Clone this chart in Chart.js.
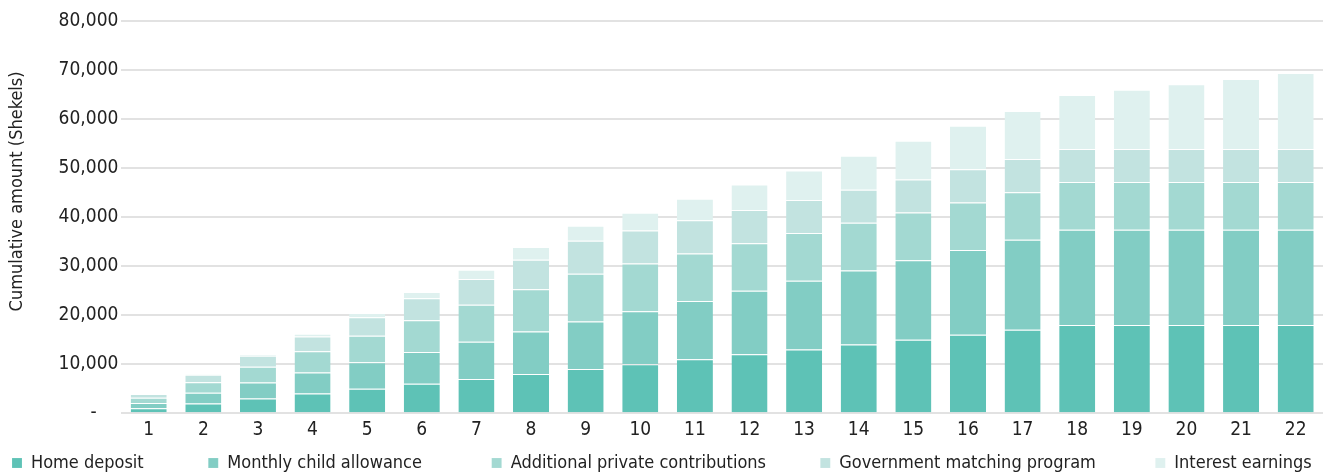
<!DOCTYPE html>
<html>
<head>
<meta charset="utf-8">
<script src="https://cdn.jsdelivr.net/npm/chart.js@4"></script>
<style>
  html, body { margin: 0; padding: 0; background: #fff; }
  #wrap { width: 1323px; height: 474px; }
</style>
</head>
<body>
<div id="wrap"><canvas id="chart"></canvas></div>
<script>
// years 1..22
const years = ["1","2","3","4","5","6","7","8","9","10","11","12","13","14","15","16","17","18","19","20","21","22"];

// values (shekels)
const homeDeposit = [1000,2000,3000,4000,5000,6000,7000,8000,9000,10000,11000,12000,13000,14000,15000,16000,17000,18000,18000,18000,18000,18000];
const childAllowance = [1080,2160,3240,4320,5400,6480,7560,8640,9720,10800,11880,12960,14040,15120,16200,17280,18360,19440,19440,19440,19440,19440];
const privateContrib = [1080,2160,3240,4320,5400,6480,7560,8640,9720,9720,9720,9720,9720,9720,9720,9720,9720,9720,9720,9720,9720,9720];
const govMatching = [750,1500,2250,3000,3750,4500,5250,6000,6750,6750,6750,6750,6750,6750,6750,6750,6750,6750,6750,6750,6750,6750];
const interest = [40,130,270,580,900,1280,1870,2600,3050,3630,4410,5200,5980,6900,7890,8880,9790,10990,12090,13170,14250,15480];

const yTicks = [0,10000,20000,30000,40000,50000,60000,70000,80000];

const FONT = "'DejaVu Sans Condensed', 'DejaVu Sans', sans-serif";

// extra spaces after each legend text so the items spread like the original
const legendGap = [11, 12, 9, 10, 0];

function ds(label, data, color) {
  return {
    label: label,
    data: data,
    backgroundColor: color,
    borderColor: "rgba(255,255,255,0.55)",
    borderWidth: { top: 1, left: 0, right: 0, bottom: 0 },
    borderSkipped: false,
    barPercentage: 0.66,
    categoryPercentage: 1
  };
}

new Chart(document.getElementById("chart"), {
  type: "bar",
  data: {
    labels: years,
    datasets: [
      ds("Home deposit", homeDeposit, "#5ec2b6"),
      ds("Monthly child allowance", childAllowance, "#82cdc4"),
      ds("Additional private contributions", privateContrib, "#a3d9d2"),
      ds("Government matching program", govMatching, "#c2e3e0"),
      ds("Interest earnings", interest, "#dff1ef")
    ]
  },
  options: {
    responsive: true,
    maintainAspectRatio: false,
    animation: false,
    layout: { padding: { top: 21, right: 0, bottom: -8, left: 4 } },
    plugins: {
      tooltip: { enabled: false },
      legend: {
        position: "bottom",
        align: "start",
        labels: {
          boxWidth: 10,
          boxHeight: 10,
          padding: 8,
          color: "#222",
          font: { family: FONT, size: 18 },
          generateLabels: chart => {
            const items = Chart.defaults.plugins.legend.labels.generateLabels(chart);
            items.forEach((it, i) => { it.text = it.text + " ".repeat(legendGap[i]); });
            return items;
          }
        }
      }
    },
    scales: {
      x: {
        stacked: true,
        grid: { display: false, drawTicks: false },
        border: { display: false },
        ticks: { color: "#222", padding: 5, font: { family: FONT, size: 19 } }
      },
      y: {
        stacked: true,
        min: 0,
        max: 80000,
        afterBuildTicks: axis => { axis.ticks = yTicks.map(v => ({ value: v })); },
        grid: { color: "#e2e2e2", lineWidth: 2, drawTicks: false },
        border: { display: false },
        title: {
          display: true,
          // leading spaces lift the title a little, as in the original
          text: " ".repeat(10) + "Cumulative amount (Shekels)",
          color: "#222",
          padding: { top: 3, bottom: 27 },
          font: { family: FONT, size: 18 }
        },
        ticks: {
          color: "#222",
          padding: 3,
          font: { family: FONT, size: 19 },
          callback: v => v === 0 ? "-    " : v.toLocaleString("en-US")
        }
      }
    }
  }
});
</script>
</body>
</html>
